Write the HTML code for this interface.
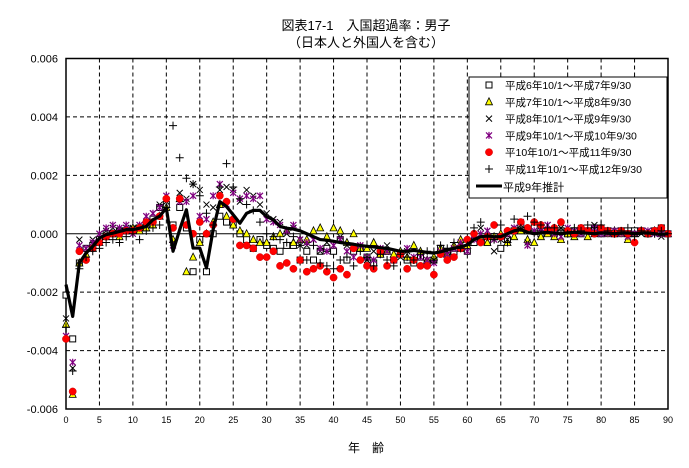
<!DOCTYPE html>
<html><head><meta charset="utf-8"><style>
body{margin:0;background:#fff;}
svg{display:block;font-family:"Liberation Sans","Noto Sans CJK JP",sans-serif;}
</style></head><body>
<svg id="chart" width="689" height="468" xmlns="http://www.w3.org/2000/svg">
<text x="366" y="30" text-anchor="middle" font-size="13">図表17-1　入国超過率：男子</text>
<text x="366" y="47" text-anchor="middle" font-size="13">（日本人と外国人を含む）</text>
<g id="grid"></g>
<g id="axes"></g>
<g id="marks"></g>
<text x="366" y="452" text-anchor="middle" font-size="12">年　齢</text>
<g id="legend"></g>
</svg>
<script>
const xTicks=[0,5,10,15,20,25,30,35,40,45,50,55,60,65,70,75,80,85,90];
const yTicks=[0.006,0.004,0.002,0.000,-0.002,-0.004,-0.006];
const yTickLabels=["0.006","0.004","0.002","0.000","-0.002","-0.004","-0.006"];
const seriesNames=["平成6年10/1～平成7年9/30","平成7年10/1～平成8年9/30","平成8年10/1～平成9年9/30","平成9年10/1～平成10年9/30","平10年10/1～平成11年9/30","平成11年10/1～平成12年9/30"];
const lineName="平成9年推計";
// values in units of 0.001, age 0..90
const sH6=[-2.1,-3.6,-1.0,-0.5,-0.4,-0.2,0.0,0.0,0.1,0.1,0.15,0.2,0.3,0.5,0.9,1.0,0.3,0.9,0.2,-1.3,-0.2,-1.3,0.0,0.6,0.4,0.3,0.0,-0.2,-0.5,-0.2,-0.4,-0.5,-0.6,-0.4,-0.4,-0.9,-0.6,-0.9,-0.6,-0.5,-0.6,-0.2,-0.9,-0.6,-0.5,-0.8,-1.0,-0.7,-0.6,-0.9,-0.7,-0.9,-1.0,-0.8,-1.0,-0.9,-0.5,-0.6,-0.7,-0.5,-0.6,-0.3,-0.2,-0.3,-0.1,-0.5,-0.2,0.1,0.3,0.1,0.2,0.0,0.1,0.0,0.1,0.0,0.1,0.0,0.1,0.2,0.0,0.1,0.0,0.1,0.0,0.1,0.1,0.0,0.1,0.2,0.0];
const sH7=[-3.1,-5.5,-1.0,-0.7,-0.5,-0.3,-0.1,0.0,-0.1,0.1,0.2,0.1,0.2,0.3,0.6,0.9,-0.2,1.2,-1.3,-0.8,-0.3,0.0,0.4,1.0,0.6,0.3,0.1,0.0,-0.2,-0.3,-0.3,-0.1,0.0,0.1,-0.3,-0.2,-0.2,0.1,0.2,-0.1,0.2,0.1,-0.3,0.0,-0.5,-0.5,-0.3,-0.7,-0.6,-0.7,-0.6,-0.8,-0.4,-0.6,-0.9,-0.8,-0.5,-0.7,-0.4,-0.2,-0.4,-0.1,-0.2,-0.3,-0.1,0.0,-0.3,-0.1,0.1,-0.2,-0.3,-0.1,0.0,-0.1,-0.2,0.0,-0.1,0.1,-0.1,0.0,0.1,0.0,0.1,0.0,-0.2,0.0,0.1,0.0,0.1,0.0,0.0];
const sH8=[-2.9,-4.6,-0.2,-0.5,-0.2,0.0,0.1,0.2,0.1,0.2,0.2,0.3,0.4,0.7,1.0,1.1,-0.3,1.4,1.2,1.7,1.5,1.0,0.9,1.5,1.6,1.5,1.1,1.5,1.3,1.0,0.7,0.5,0.4,0.0,0.2,-0.4,-0.4,-0.2,-0.6,-0.3,-0.4,-0.1,-0.4,-0.5,-0.4,-0.9,-0.6,-0.5,-0.4,-0.9,-0.8,-0.6,-0.9,-0.8,-0.9,-0.9,-0.7,-0.7,-0.5,-0.4,-0.6,-0.1,0.2,0.1,-0.6,-0.2,-0.2,0.2,0.3,-0.3,0.1,0.1,0.3,0.0,0.2,0.1,0.0,0.2,0.1,0.3,0.1,0.0,0.1,0.1,-0.1,0.0,0.0,0.1,0.0,-0.1,0.0];
const sH9=[-3.5,-4.4,-0.4,-0.5,-0.3,0.0,0.2,0.3,0.2,0.3,0.0,0.3,0.6,0.7,0.9,1.3,-0.4,1.1,1.1,1.3,0.6,0.5,1.3,1.7,1.0,1.4,1.2,1.3,1.2,1.3,0.5,0.4,0.3,0.1,0.3,-0.2,-0.3,-0.2,-0.5,-0.6,-0.4,-0.2,-0.6,-0.8,-0.4,-0.8,-0.9,-0.5,-0.6,-0.9,-0.7,-0.5,-0.8,-0.8,-0.9,-1.0,-0.6,-0.7,-0.5,-0.3,-0.6,-0.2,0.0,0.1,-0.2,-0.1,0.0,0.2,0.4,-0.4,0.1,0.2,0.3,0.0,-0.1,0.2,0.1,0.0,0.1,0.2,0.0,0.0,0.1,0.0,-0.1,0.0,0.1,0.1,0.0,0.0,0.0];
const sH10=[-3.6,-5.4,-0.6,-0.9,-0.5,-0.3,-0.1,0.0,0.0,0.1,0.1,0.2,0.4,0.4,0.6,1.2,0.2,1.2,0.3,0.0,0.4,0.0,0.3,1.3,1.1,0.5,-0.4,-0.4,-0.5,-0.8,-0.8,-0.6,-1.1,-1.0,-1.2,-0.9,-1.3,-1.2,-1.1,-1.3,-1.5,-1.2,-1.4,-0.5,-0.9,-1.1,-1.2,-0.6,-1.1,-0.9,-0.7,-1.2,-0.9,-1.1,-1.1,-1.4,-0.7,-0.9,-0.8,-0.5,-0.2,0.0,-0.3,-0.1,0.3,-0.1,0.1,0.1,0.4,0.2,0.4,0.3,0.1,0.2,0.4,0.1,0.0,0.2,0.1,0.0,0.2,0.1,0.0,0.1,0.0,-0.3,0.1,0.0,0.1,0.2,0.0];
const sH11=[-3.2,-4.7,-1.2,-0.8,-0.6,-0.5,-0.3,-0.2,-0.3,-0.1,0.0,-0.2,0.1,0.2,0.3,0.9,3.7,2.6,1.9,1.7,1.3,0.7,0.3,1.6,2.4,1.6,1.2,1.0,0.8,0.4,0.0,-0.1,-0.2,-0.3,-0.1,-0.4,-0.9,-0.4,-1.0,-1.1,-1.2,-0.9,-0.8,-1.1,-0.6,-0.8,-1.1,-0.7,-0.9,-1.1,-0.7,-0.8,-0.9,-0.7,-0.6,-0.9,-0.4,-0.5,-0.3,-0.5,-0.4,0.2,0.4,-0.1,-0.2,0.3,-0.3,0.5,0.2,0.6,0.4,0.3,0.2,0.2,0.1,0.0,0.2,0.1,0.3,0.2,0.3,0.1,0.0,0.1,0.2,-0.1,0.1,0.0,0.0,0.1,0.0];
const sLine=[-1.74,-2.83,-1.0,-0.66,-0.43,-0.15,-0.03,0.02,0.08,0.14,0.14,0.19,0.25,0.48,0.6,0.88,-0.6,0.14,0.82,-0.49,-0.49,-1.17,0.14,1.1,0.93,0.65,0.36,0.7,0.8,0.8,0.59,0.48,0.25,0.19,0.16,0.1,0.0,-0.1,-0.2,-0.22,-0.26,-0.3,-0.33,-0.36,-0.4,-0.43,-0.45,-0.48,-0.5,-0.55,-0.6,-0.6,-0.57,-0.6,-0.64,-0.66,-0.62,-0.55,-0.5,-0.45,-0.38,-0.2,-0.1,-0.08,-0.1,-0.1,0.0,0.1,0.14,0.05,0.0,0.03,0.05,0.02,0.0,0.03,0.05,0.03,0.02,0.0,0.03,0.02,0.0,0.02,0.03,0.0,0.02,0.03,0.0,-0.02,0.0];

const NS="http://www.w3.org/2000/svg";
const X0=66,X1=668,Y0=58.5,Y1=409;
const xs=a=>X0+(a/90)*(X1-X0);
const ys=v=>Y0+(0.006-v)/0.012*(Y1-Y0);
function mk(tag,attrs,parent){const e=document.createElementNS(NS,tag);for(const k in attrs)e.setAttribute(k,attrs[k]);parent.appendChild(e);return e;}
const grid=document.getElementById('grid'),axes=document.getElementById('axes'),marks=document.getElementById('marks'),legend=document.getElementById('legend');
xTicks.forEach((t,i)=>{
 if(i>0&&i<xTicks.length-1){const g=mk('line',{x1:xs(t),x2:xs(t),y1:Y0,y2:Y1,stroke:'#000','stroke-dasharray':'4,3','stroke-width':1},grid);
 
 }
 const tl=mk('text',{x:xs(t),y:Y1+14,'text-anchor':'middle','font-size':9},axes);tl.textContent=t;
 
 
});
yTicks.forEach((t,i)=>{
 if(t!==0&&i>0&&i<yTicks.length-1){const g=mk('line',{x1:X0,x2:X1,y1:ys(t),y2:ys(t),stroke:'#000','stroke-dasharray':'4,3','stroke-width':1},grid);
 
 }
 const tl=mk('text',{x:X0-8,y:ys(t)+4,'text-anchor':'end','font-size':11},axes);tl.textContent=yTickLabels[i];
 
 
});
const zl=mk('line',{x1:X0,x2:X1,y1:ys(0),y2:ys(0),stroke:'#000','stroke-width':1},axes);


const fr=mk('rect',{x:X0,y:Y0,width:X1-X0,height:Y1-Y0,fill:'none',stroke:'#000','stroke-width':1.5},axes);



function marker(type,x,y,p){
 let e;
 if(type==0)e=mk('rect',{x:x-3,y:y-3,width:6,height:6,fill:'#fff',stroke:'#000','stroke-width':1},p);
 else if(type==1)e=mk('polygon',{points:`${x},${y-4} ${x+3.5},${y+3} ${x-3.5},${y+3}`,fill:'#ff0',stroke:'#000','stroke-width':0.8},p);
 else if(type==2)e=mk('path',{d:`M${x-3},${y-3}L${x+3},${y+3}M${x+3},${y-3}L${x-3},${y+3}`,stroke:'#000','stroke-width':1},p);
 else if(type==3)e=mk('path',{d:`M${x-3},${y-3}L${x+3},${y+3}M${x+3},${y-3}L${x-3},${y+3}M${x},${y-3.5}L${x},${y+3.5}`,stroke:'#800080','stroke-width':1.2},p);
 else if(type==4)e=mk('circle',{cx:x,cy:y,r:3.6,fill:'#f00',stroke:'#c00','stroke-width':0.5},p);
 else e=mk('path',{d:`M${x-4},${y}L${x+4},${y}M${x},${y-4}L${x},${y+4}`,stroke:'#000','stroke-width':1},p);
 return e;
}
const allSeries=[sH6,sH7,sH8,sH9,sH10,sH11];
allSeries.forEach((s,si)=>{
 const g=mk('g',{},marks);
 
 
 s.forEach((v,a)=>{const m=marker(si,xs(a),ys(v/1000),g);
  
  });
});
const ln=mk('polyline',{points:sLine.map((v,a)=>xs(a)+','+ys(v/1000)).join(' '),fill:'none',stroke:'#000','stroke-width':3.2,'stroke-linejoin':'round'},marks);



const lb=mk('rect',{x:469,y:77,width:198,height:121,fill:'#fff',stroke:'#000','stroke-width':1},legend);


seriesNames.forEach((n,i)=>{
 const y=85+i*16.8;
 const m=marker(i,489,y,legend);
 
 
 const t=mk('text',{x:505,y:y+4,'font-size':10.5},legend);t.textContent=n;
 
 
});
const ll=mk('line',{x1:476,x2:502,y1:186,y2:186,stroke:'#000','stroke-width':3},legend);


const lt=mk('text',{x:503,y:191,'font-size':11},legend);lt.textContent=lineName;


</script>
</body></html>
